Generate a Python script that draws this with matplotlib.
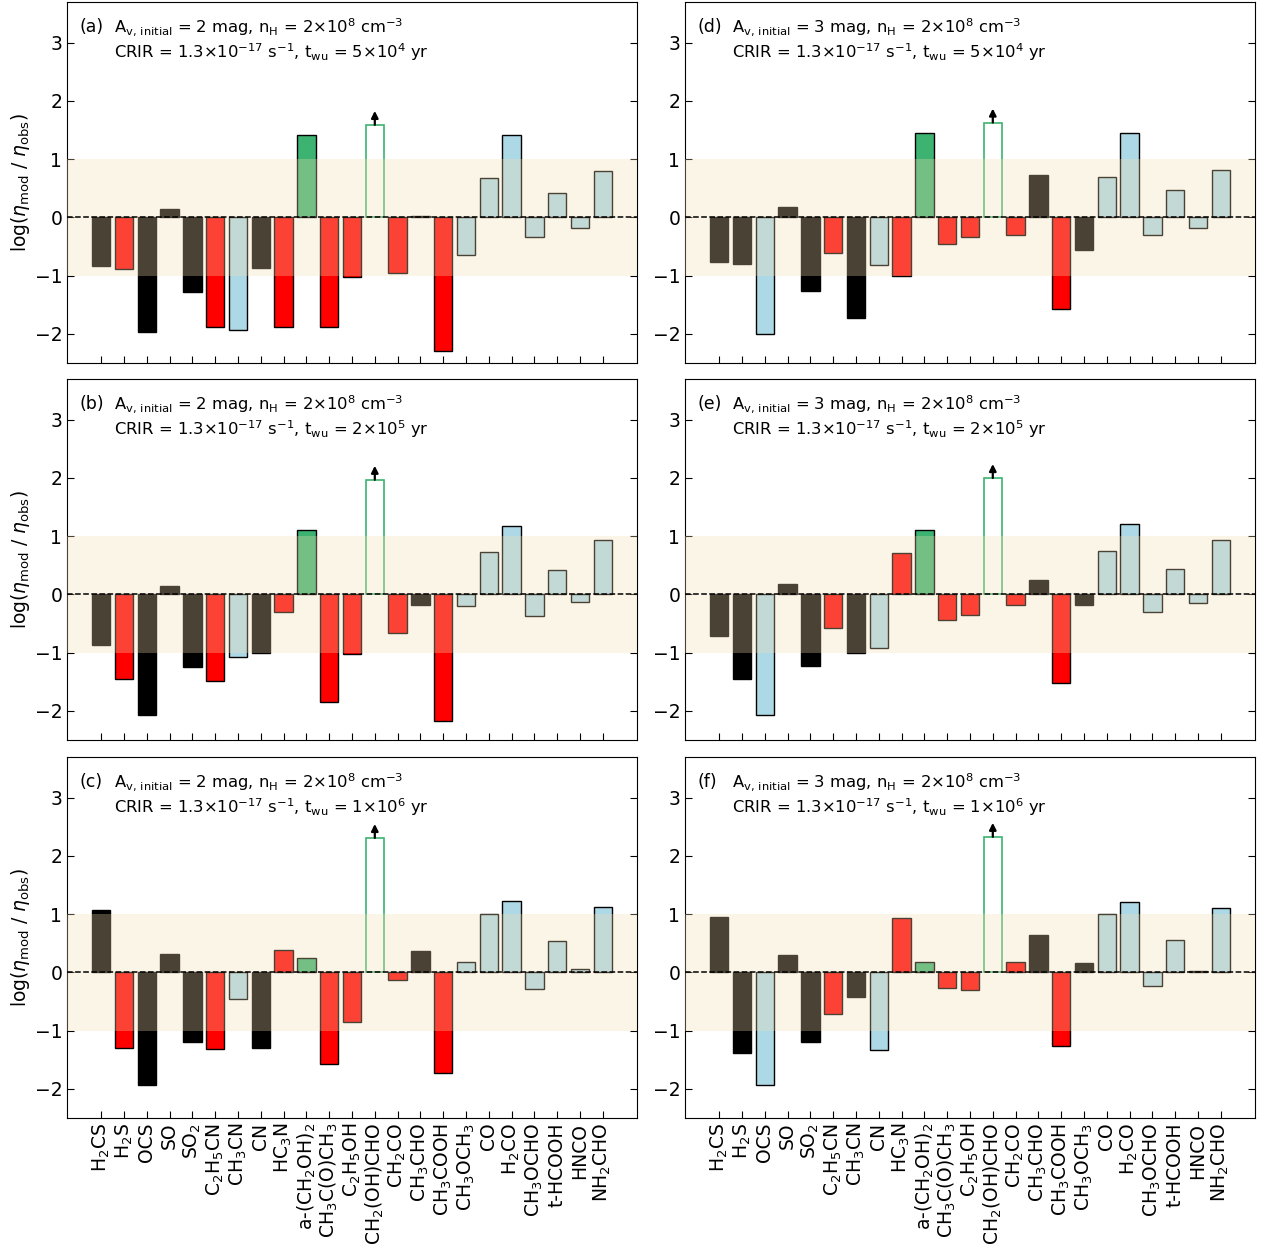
import matplotlib
matplotlib.use("Agg")
import matplotlib.pyplot as plt
import numpy as np

species = [r"H$_2$CS", r"H$_2$S", "OCS", "SO", r"SO$_2$", r"C$_2$H$_5$CN", r"CH$_3$CN",
           "CN", r"HC$_3$N", r"a-(CH$_2$OH)$_2$", r"CH$_3$C(O)CH$_3$", r"C$_2$H$_5$OH",
           r"CH$_2$(OH)CHO", r"CH$_2$CO", r"CH$_3$CHO", r"CH$_3$COOH", r"CH$_3$OCH$_3$",
           "CO", r"H$_2$CO", r"CH$_3$OCHO", "t-HCOOH", "HNCO", r"NH$_2$CHO"]

# log(eta_mod / eta_obs) for each model
vals_a = [-0.84, -0.89, -1.96, 0.15, -1.28, -1.89, -1.94, -0.87, -1.89, 1.41, -1.89, -1.03,
          1.59, -0.95, 0.02, -2.29, -0.65, 0.68, 1.41, -0.33, 0.42, -0.19, 0.80]
vals_b = [-0.87, -1.46, -2.07, 0.15, -1.25, -1.49, -1.07, -1.01, -0.30, 1.10, -1.84, -1.03,
          1.97, -0.66, -0.19, -2.17, -0.20, 0.73, 1.17, -0.37, 0.42, -0.13, 0.93]
vals_c = [1.08, -1.30, -1.94, 0.32, -1.20, -1.32, -0.46, -1.29, 0.38, 0.25, -1.58, -0.85,
          2.31, -0.13, 0.37, -1.73, 0.18, 1.01, 1.22, -0.28, 0.54, 0.06, 1.12]
vals_d = [-0.76, -0.80, -2.00, 0.18, -1.26, -0.61, -1.73, -0.82, -1.01, 1.45, -0.46, -0.33,
          1.63, -0.30, 0.73, -1.57, -0.56, 0.70, 1.45, -0.30, 0.47, -0.19, 0.81]
vals_e = [-0.72, -1.45, -2.07, 0.18, -1.23, -0.57, -1.00, -0.92, 0.72, 1.10, -0.44, -0.36,
          2.00, -0.18, 0.25, -1.52, -0.18, 0.75, 1.21, -0.31, 0.44, -0.14, 0.93]
vals_f = [0.96, -1.38, -1.93, 0.30, -1.20, -0.72, -0.42, -1.33, 0.94, 0.18, -0.27, -0.30,
          2.33, 0.18, 0.64, -1.27, 0.17, 1.01, 1.21, -0.24, 0.55, 0.03, 1.11]

# colour class of each bar: k = black, r = red, b = light blue, g = green, o = open (lower limit)
cls_a = "k r k k k r b k r g r r o r k r b b b b b b b".split()
cls_b = "k r k k k r b k r g r r o r k r b b b b b b b".split()
cls_c = "k r k k k r b k r g r r o r k r b b b b b b b".split()
cls_d = "k k b k k r k b r g r r o r k r k b b b b b b".split()
cls_e = "k k b k k r k b r g r r o r k r k b b b b b b".split()
cls_f = "k k b k k r k b r g r r o r k r k b b b b k b".split()

panel_tags = ["(a)", "(b)", "(c)", "(d)", "(e)", "(f)"]
av_initial = [2, 2, 2, 3, 3, 3]
t_wu = [r"5$\times$10$^4$", r"2$\times$10$^5$", r"1$\times$10$^6$",
        r"5$\times$10$^4$", r"2$\times$10$^5$", r"1$\times$10$^6$"]

colour_map = {"k": "#000000", "r": "#ff0000", "b": "#add8e6", "g": "#3cb371"}
green = "#3cb371"

W, H = 1266, 1252
fig = plt.figure(figsize=(W / 100, H / 100), dpi=100)

col_left = [67, 685]
row_top = [2, 379, 757]
ax_w, ax_h = 570, 361

all_vals = [vals_a, vals_b, vals_c, vals_d, vals_e, vals_f]
all_cls = [cls_a, cls_b, cls_c, cls_d, cls_e, cls_f]
x = np.arange(len(species))

for k in range(6):
    col, row = divmod(k, 3)
    rect = [col_left[col] / W, 1 - (row_top[row] + ax_h) / H, ax_w / W, ax_h / H]
    ax = fig.add_axes(rect)
    v = np.array(all_vals[k])
    cls = all_cls[k]

    for i in range(len(species)):
        if cls[i] == "o":
            ax.bar(x[i], v[i], width=0.8, facecolor="none", edgecolor=green, lw=1.2, zorder=2)
            ax.annotate("", xy=(x[i], v[i] + 0.24), xytext=(x[i], v[i]),
                        arrowprops=dict(arrowstyle="-|>", color="k", lw=1.6,
                                        mutation_scale=10, shrinkA=0, shrinkB=0),
                        zorder=5)
        else:
            ax.bar(x[i], v[i], width=0.8, color=colour_map[cls[i]], edgecolor="k",
                   lw=1.0, zorder=2)
    ax.axhspan(-1, 1, color="wheat", alpha=0.3, lw=0, zorder=3)
    ax.axhline(0, color="k", ls="--", lw=1.1, zorder=4)

    ax.set_xlim(-1.5, len(species) + 0.5)
    ax.set_ylim(-2.5, 3.7)
    ax.set_yticks([-2, -1, 0, 1, 2, 3])
    ax.set_xticks(x)
    ax.tick_params(axis="both", direction="in", labelsize=13.5, length=5)
    ax.tick_params(axis="y", right=True)
    if row == 2:
        ax.set_xticklabels(species, rotation=90, fontsize=13.5)
    else:
        ax.set_xticklabels([])
    if col == 0:
        ax.set_ylabel(r"log($\eta_{\rm mod}$ / $\eta_{\rm obs}$)", fontsize=13.5, labelpad=2)

    ax.text(0.022, 0.931, panel_tags[k], transform=ax.transAxes, fontsize=12.5,
            va="center", ha="left")
    ax.text(0.082, 0.931,
            r"A$_{\rm v,\,initial}$ = %d mag, n$_{\rm H}$ = 2$\times$10$^8$ cm$^{-3}$" % av_initial[k],
            transform=ax.transAxes, fontsize=11.8, va="center", ha="left")
    ax.text(0.082, 0.862,
            r"CRIR = 1.3$\times$10$^{-17}$ s$^{-1}$, t$_{\rm wu}$ = " + t_wu[k] + " yr",
            transform=ax.transAxes, fontsize=11.8, va="center", ha="left")

fig.savefig("out.png", dpi=100)
